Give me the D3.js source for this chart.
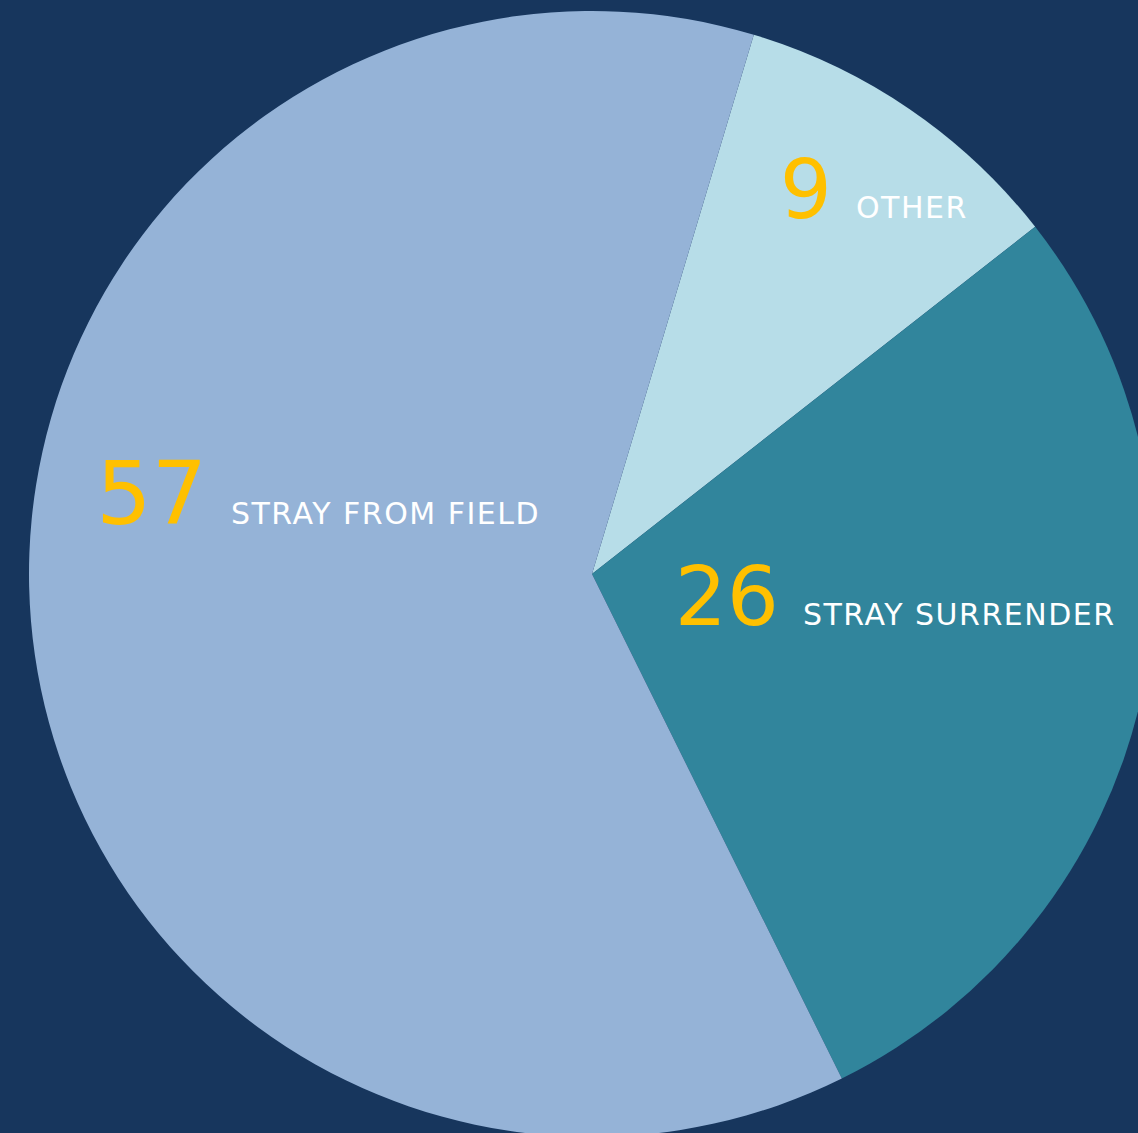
<!DOCTYPE html>
<html>
<head>
<meta charset="utf-8">
<script src="https://cdn.jsdelivr.net/npm/d3@7"></script>
<style>
  html, body { margin: 0; padding: 0; background: #17365d; overflow: hidden; }
</style>
</head>
<body>
<script>
const categories = ["Other", "Stray Surrender", "Stray from field"];
const values = [9, 26, 57];
const labels = ["OTHER", "STRAY SURRENDER", "STRAY FROM FIELD"];
const colors = ["#b7dde8", "#31859c", "#95b3d7"];

const width = 1138;
const height = 1133;
const cx = 592;
const cy = 574;
const radius = 563;
// first slice starts a bit past 12 o'clock
const startAngle = 0.2915;

// label anchor (gap between number and text) relative to the centre
const labelOffsets = [[252, -356], [199, 51], [-373, -50]];

const svg = d3.select("body")
  .append("svg")
  .attr("width", width)
  .attr("height", height)
  .style("background-color", "#17365d")
  .style("display", "block");

const g = svg.append("g")
  .attr("transform", `translate(${cx}, ${cy})`);

const pie = d3.pie()
  .sort(null)
  .value(d => d.value)
  .startAngle(startAngle)
  .endAngle(startAngle + 2 * Math.PI);

const arc = d3.arc()
  .innerRadius(0)
  .outerRadius(radius);

const data = categories.map((c, i) => ({ name: c, value: values[i], label: labels[i], color: colors[i] }));
const arcs = pie(data);

g.selectAll("path.slice")
  .data(arcs)
  .join("path")
  .attr("class", "slice")
  .attr("d", arc)
  .attr("fill", d => d.data.color);

const lbl = g.selectAll("g.lbl")
  .data(arcs)
  .join("g")
  .attr("class", "lbl")
  .attr("transform", (d, i) => `translate(${labelOffsets[i][0]}, ${labelOffsets[i][1]})`);

lbl.append("text")
  .attr("x", -12)
  .attr("y", 0)
  .attr("text-anchor", "end")
  .style("font-family", "'DejaVu Sans', sans-serif")
  .style("font-size", d => d.data.value > 50 ? "87px" : "82px")
  .style("font-weight", "normal")
  .style("fill", "#ffc000")
  .text(d => d.data.value);

lbl.append("text")
  .attr("x", 12)
  .attr("y", 0)
  .attr("text-anchor", "start")
  .style("font-family", "'DejaVu Sans', sans-serif")
  .style("font-size", "30px")
  .style("letter-spacing", "1.5px")
  .style("fill", "#ffffff")
  .text(d => d.data.label);
</script>
</body>
</html>
